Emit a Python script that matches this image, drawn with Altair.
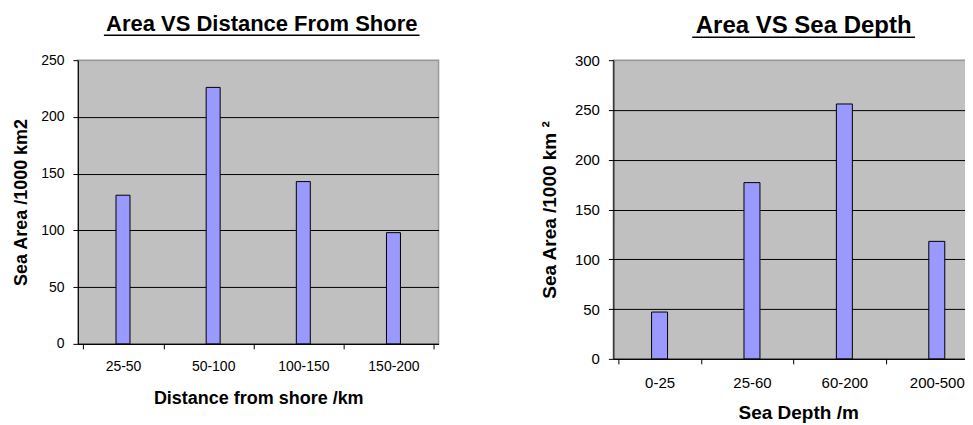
import altair as alt
import pandas as pd

dist_labels = ["25-50", "50-100", "100-150", "150-200"]
dist_area = [131, 226, 143, 98]
depth_labels = ["0-25", "25-60", "60-200", "200-500"]
depth_area = [47, 177, 256, 118]

FONT = "Liberation Sans"
BAR = "#9999FF"


def panel(labels, values, title, xtitle, ytitle, ymax, width, height,
          barsize, tsize, tpos, ul, lab, ttl, xlp, xtp, ytp):
    df = pd.DataFrame({"cat": labels, "val": values})
    bars = alt.Chart(df).mark_bar(
        size=barsize, color=BAR, stroke="black", strokeWidth=1
    ).encode(
        x=alt.X("cat:N", sort=labels, title=xtitle,
                axis=alt.Axis(labelAngle=0, tickBand="extent", grid=False,
                              labelFontSize=lab, titleFontSize=ttl,
                              labelPadding=xlp, titlePadding=xtp)),
        y=alt.Y("val:Q", scale=alt.Scale(domain=[0, ymax], nice=False),
                title=ytitle,
                axis=alt.Axis(values=list(range(0, ymax + 1, 50)), grid=True,
                              labelFontSize=lab, titleFontSize=ttl,
                              labelPadding=9, titlePadding=ytp,
                              gridColor=alt.condition(f"datum.value == {ymax}",
                                                      alt.value("#999999"),
                                                      alt.value("black")))),
    )
    one = pd.DataFrame({"u": [0]})
    head = alt.Chart(one).mark_text(
        font=FONT, fontSize=tsize, fontWeight="bold", color="black",
        align="center", baseline="alphabetic"
    ).encode(x=alt.value(tpos[0]), y=alt.value(tpos[1]), text=alt.value(title))
    line = alt.Chart(one).mark_rule(
        color="black", strokeWidth=1.6
    ).encode(x=alt.value(ul[0]), x2=alt.value(ul[1]), y=alt.value(ul[2]))
    return alt.layer(bars, head, line).properties(width=width, height=height)


left = panel(dist_labels, dist_area, "Area VS Distance From Shore",
             "Distance from shore /km", "Sea Area /1000 km2", 250,
             361, 284, 14, 22, (184, -29), (26, 342, -25), 14, 18, 11, 16, 10)
right = panel(depth_labels, depth_area, "Area VS Sea Depth",
              "Sea Depth /m", "Sea Area /1000 km ²", 300,
              370, 299, 16, 24, (190.5, -27), (79, 302, -23), 15, 19, 12, 13, 15)

chart = alt.hconcat(left, right, spacing=100).properties(
    padding={"left": 3, "top": 4, "right": -19, "bottom": 0}
).configure_view(
    fill="#C0C0C0", stroke="#999999", strokeWidth=1.5
).configure_axis(
    labelFont=FONT, labelColor="black",
    titleFont=FONT, titleFontWeight="bold", titleColor="black",
    domainColor="black", tickColor="black", tickSize=5,
    gridWidth=1, domainWidth=1,
)

chart.save("out.html", embed_options={"renderer": "svg", "actions": False})
